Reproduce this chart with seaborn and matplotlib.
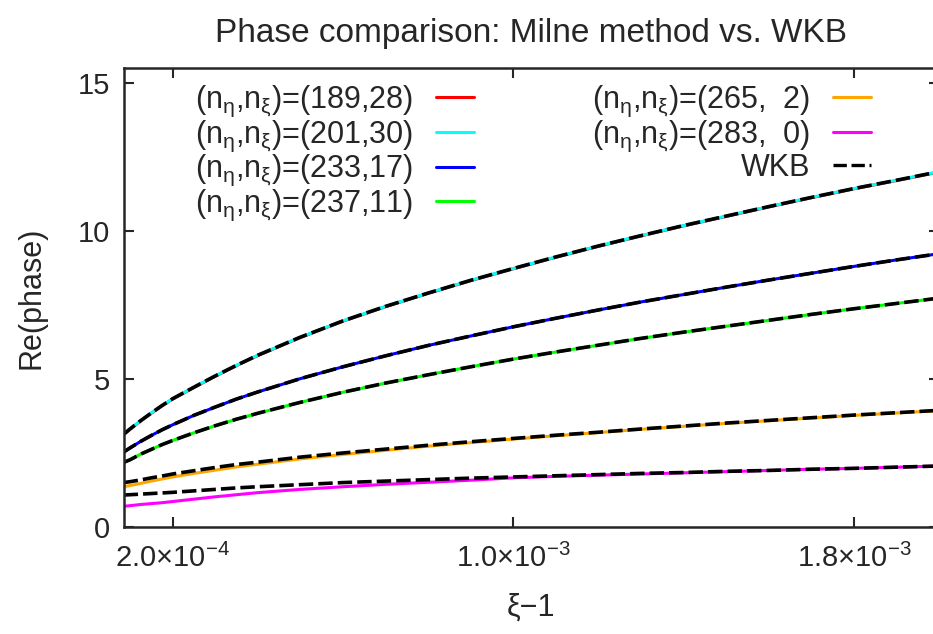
import matplotlib
matplotlib.use("Agg")
import matplotlib.pyplot as plt
import seaborn as sns
import pandas as pd

# ---- data (xi - 1, Re(phase)) ----
xi_minus_1 = [0.85e-4, 1.0e-4, 1.25e-4, 1.5e-4, 1.75e-4, 2.0e-4, 2.5e-4, 3.0e-4, 3.5e-4, 4.0e-4,
              5.0e-4, 6.0e-4, 7.0e-4, 8.0e-4, 9.0e-4, 1.0e-3, 1.1e-3, 1.2e-3, 1.3e-3, 1.4e-3,
              1.5e-3, 1.6e-3, 1.7e-3, 1.8e-3, 1.9e-3, 2.0e-3]
phase_189_28 = [3.12, 3.30, 3.58, 3.84, 4.09, 4.32, 4.71, 5.09, 5.45, 5.79, 6.40, 6.95, 7.44, 7.89,
                8.32, 8.72, 9.11, 9.48, 9.83, 10.17, 10.49, 10.81, 11.12, 11.42, 11.70, 11.99]
phase_201_30 = [3.13, 3.31, 3.59, 3.85, 4.10, 4.33, 4.72, 5.10, 5.46, 5.80, 6.41, 6.96, 7.45, 7.90,
                8.33, 8.73, 9.12, 9.49, 9.84, 10.18, 10.50, 10.82, 11.13, 11.43, 11.71, 12.00]
phase_233_17 = [2.53, 2.67, 2.89, 3.09, 3.28, 3.45, 3.77, 4.05, 4.32, 4.56, 5.01, 5.41, 5.78, 6.13,
                6.45, 6.76, 7.05, 7.33, 7.60, 7.85, 8.10, 8.34, 8.57, 8.80, 9.02, 9.23]
phase_237_11 = [2.18, 2.27, 2.46, 2.62, 2.78, 2.92, 3.18, 3.42, 3.64, 3.84, 4.21, 4.55, 4.86, 5.14,
                5.41, 5.67, 5.91, 6.14, 6.37, 6.58, 6.78, 6.98, 7.18, 7.37, 7.55, 7.73]
phase_265_2 = [1.36, 1.40, 1.47, 1.55, 1.62, 1.69, 1.81, 1.92, 2.03, 2.12, 2.30, 2.45, 2.59, 2.73,
               2.85, 2.97, 3.08, 3.19, 3.30, 3.40, 3.50, 3.59, 3.68, 3.77, 3.85, 3.93]
phase_283_0 = [0.70, 0.72, 0.76, 0.79, 0.82, 0.86, 0.94, 1.02, 1.09, 1.16, 1.27, 1.36, 1.44, 1.51,
               1.58, 1.66, 1.71, 1.75, 1.79, 1.83, 1.87, 1.91, 1.95, 1.98, 2.02, 2.06]
wkb_201_30 = [3.13, 3.31, 3.59, 3.85, 4.10, 4.33, 4.72, 5.10, 5.46, 5.80, 6.41, 6.96, 7.45, 7.90,
              8.33, 8.73, 9.12, 9.49, 9.84, 10.18, 10.50, 10.82, 11.13, 11.43, 11.71, 12.00]
wkb_233_17 = [2.53, 2.67, 2.89, 3.09, 3.28, 3.45, 3.77, 4.05, 4.32, 4.56, 5.01, 5.41, 5.78, 6.13,
              6.45, 6.76, 7.05, 7.33, 7.60, 7.85, 8.10, 8.34, 8.57, 8.80, 9.02, 9.23]
wkb_237_11 = [2.18, 2.27, 2.46, 2.62, 2.78, 2.92, 3.18, 3.42, 3.64, 3.84, 4.21, 4.55, 4.86, 5.14,
              5.41, 5.67, 5.91, 6.14, 6.37, 6.58, 6.78, 6.98, 7.18, 7.37, 7.55, 7.73]
wkb_265_2 = [1.50, 1.53, 1.59, 1.66, 1.72, 1.79, 1.90, 2.01, 2.11, 2.19, 2.36, 2.50, 2.63, 2.76,
             2.88, 2.99, 3.10, 3.20, 3.31, 3.41, 3.51, 3.60, 3.69, 3.78, 3.86, 3.94]
wkb_283_0 = [1.08, 1.09, 1.11, 1.13, 1.15, 1.17, 1.22, 1.27, 1.32, 1.36, 1.43, 1.50, 1.55, 1.60,
             1.65, 1.69, 1.73, 1.77, 1.81, 1.84, 1.88, 1.91, 1.95, 1.98, 2.02, 2.06]

labels = [r"(n$_{\eta}$,n$_{\xi}$)=(189,28)",
          r"(n$_{\eta}$,n$_{\xi}$)=(201,30)",
          r"(n$_{\eta}$,n$_{\xi}$)=(233,17)",
          r"(n$_{\eta}$,n$_{\xi}$)=(237,11)",
          r"(n$_{\eta}$,n$_{\xi}$)=(265,  2)",
          r"(n$_{\eta}$,n$_{\xi}$)=(283,  0)"]
colors = ["#ff0000", "#00ffff", "#0000ff", "#00ff00", "#ffa500", "#ff00ff"]
series = [phase_189_28, phase_201_30, phase_233_17, phase_237_11, phase_265_2, phase_283_0]
wkb_series = [wkb_201_30, wkb_233_17, wkb_237_11, wkb_265_2, wkb_283_0]

xticks = [2.0e-4, 1.0e-3, 1.8e-3]
xticklabels = [r"2.0×10$^{-4}$", r"1.0×10$^{-3}$", r"1.8×10$^{-3}$"]
yticks = [0, 5, 10, 15]

sns.set_style("ticks")
plt.rcParams["font.family"] = ["Liberation Sans", "DejaVu Sans"]
plt.rcParams["mathtext.fontset"] = "custom"
plt.rcParams["mathtext.rm"] = "Liberation Sans"
plt.rcParams["mathtext.it"] = "Liberation Sans"
plt.rcParams["mathtext.bf"] = "Liberation Sans:bold"

fig = plt.figure(figsize=(9.33, 6.34), dpi=100)
W, H = 933.0, 634.0
ax_left, ax_right = 123.6, 939.2
ax_bottom, ax_top = 527.0, 68.0
ax = fig.add_axes([ax_left / W, 1 - ax_bottom / H, (ax_right - ax_left) / W, (ax_bottom - ax_top) / H])

handles = []
for lab, col, ys in zip(labels, colors, series):
    df = pd.DataFrame({"x": xi_minus_1, "y": ys})
    sns.lineplot(data=df, x="x", y="y", ax=ax, color=col, linewidth=2.2, label=lab, legend=False)
    handles.append(ax.lines[-1])
for i, ys in enumerate(wkb_series):
    df = pd.DataFrame({"x": xi_minus_1, "y": ys})
    sns.lineplot(data=df, x="x", y="y", ax=ax, color="black", linewidth=2.6, legend=False,
                 label="WKB" if i == 0 else None)
    ax.lines[-1].set_dashes((4.0, 1.4))
    if i == 0:
        handles.append(ax.lines[-1])

ax.set_xlim(0.85e-4, 2.0e-3)
ax.set_ylim(0, 15.5)
ax.set_xticks(xticks)
ax.set_xticklabels(xticklabels)
ax.set_yticks(yticks)
ax.tick_params(direction="in", length=7, width=1.5, top=True, right=True, labelsize=21)
ax.tick_params(axis="x", pad=12)
ax.tick_params(axis="y", pad=10)
for s in ax.spines.values():
    s.set_linewidth(1.8)
    s.set_visible(True)
ax.set_xlabel("ξ−1", fontsize=22, labelpad=14)
ax.set_ylabel("Re(phase)", fontsize=22, labelpad=22)
ax.set_title("Phase comparison: Milne method vs. WKB", fontsize=24, pad=19)

leg = ax.legend(handles, labels + ["WKB"], ncol=2, loc="upper right",
                bbox_to_anchor=(871 / W, 1 - 84 / H), bbox_transform=fig.transFigure,
                frameon=False, markerfirst=False, handlelength=1.25, handletextpad=0.75,
                columnspacing=3.85, labelspacing=-0.02, borderpad=0, borderaxespad=0,
                fontsize=22)
for ln in leg.get_lines():
    ln.set_linewidth(2.2)
leg.get_lines()[-1].set_linewidth(2.4)

fig.savefig("out.png", dpi=100)
